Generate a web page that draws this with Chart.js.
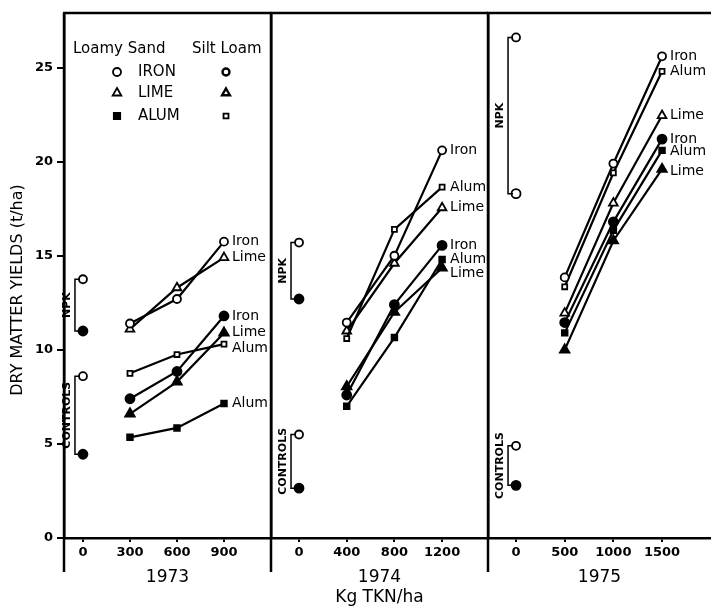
<!DOCTYPE html>
<html>
<head>
<meta charset="utf-8">
<script src="https://cdn.jsdelivr.net/npm/chart.js@4.4.0/dist/chart.umd.min.js"></script>
<style>
  html, body { margin: 0; padding: 0; background: #fff; }
  #wrap { position: relative; width: 711px; height: 608px; overflow: hidden; }
  canvas { position: absolute; top: 0; }
</style>
</head>
<body>
<div id="wrap">
  <canvas id="c1973" width="271" height="608" style="left:0"></canvas>
  <canvas id="c1974" width="224" height="608" style="left:264px"></canvas>
  <canvas id="c1975" width="230" height="608" style="left:481px"></canvas>
</div>
<script>
// ---- data (t/ha) ----
const yTicks = [0, 5, 10, 15, 20, 25];

const ticks1973 = [0, 300, 600, 900];
const ticks1974 = [0, 400, 800, 1200];
const ticks1975 = [0, 500, 1000, 1500];

const rates1973 = [300, 600, 900];
const rates1974 = [400, 800, 1200];
const rates1975 = [500, 1000, 1500];

// upper group, open markers
const open1973Iron = [11.4, 12.7, 15.75];
const open1973Lime = [11.1, 13.3, 14.9];
const open1973Alum = [8.75, 9.75, 10.3];
// lower group, filled markers
const fill1973Iron = [7.4, 8.85, 11.8];
const fill1973Lime = [6.6, 8.3, 10.9];
const fill1973Alum = [5.35, 5.85, 7.15];

const open1974Iron = [11.45, 15.0, 20.6];
const open1974Alum = [10.6, 16.4, 18.65];
const open1974Lime = [11.0, 14.6, 17.55];
const fill1974Iron = [7.6, 12.4, 15.55];
const fill1974Alum = [7.0, 10.65, 14.8];
const fill1974Lime = [8.05, 12.0, 14.35];

const open1975Iron = [13.85, 19.9, 25.6];
const open1975Alum = [13.35, 19.4, 24.8];
const open1975Lime = [11.95, 17.8, 22.45];
const fill1975Iron = [11.45, 16.8, 21.2];
const fill1975Alum = [10.9, 16.35, 20.6];
const fill1975Lime = [10.0, 15.8, 19.6];

// rate 0: [upper, lower]
const npk1973 = [13.75, 11.0];
const controls1973 = [8.6, 4.45];
const npk1974 = [15.7, 12.7];
const controls1974 = [5.5, 2.65];
const npk1975 = [26.6, 18.3];
const controls1975 = [4.9, 2.8];

Chart.defaults.font.family = '"DejaVu Sans", sans-serif';
Chart.defaults.color = '#000';

const FONT = '"DejaVu Sans", sans-serif';

const marker = {
  openIron: { pointStyle: 'circle', pointRadius: 4, pointBackgroundColor: '#fff' },
  openLime: { pointStyle: 'triangle', pointRadius: 5, pointBackgroundColor: '#fff' },
  openAlum: { pointStyle: 'rect', pointRadius: 3.5, pointBackgroundColor: '#fff' },
  fillIron: { pointStyle: 'circle', pointRadius: 4.5, pointBackgroundColor: '#000' },
  fillLime: { pointStyle: 'triangle', pointRadius: 5.5, pointBackgroundColor: '#000' },
  fillAlum: { pointStyle: 'rect', pointRadius: 4, pointBackgroundColor: '#000' },
};

function series(rates, values, style, label, dy) {
  return Object.assign({
    label: label,
    endLabel: label,
    labelDy: dy || 0,
    data: rates.map((r, i) => ({ x: r, y: values[i] })),
    showLine: true,
    borderColor: '#000',
    borderWidth: 2.2,
    pointBorderColor: '#000',
    pointBorderWidth: 1.8,
  }, style);
}

function bracket(name, values, fills) {
  return {
    label: name,
    bracket: name,
    data: values.map(v => ({ x: 0, y: v })),
    showLine: false,
    pointStyle: 'circle',
    pointRadius: [4, 4.5],
    pointBackgroundColor: fills,
    pointBorderColor: '#000',
    pointBorderWidth: 1.8,
  };
}

// frame lines, bracket labels, end labels, legend, y title
const decorations = {
  id: 'decorations',
  afterDatasetsDraw(chart, args, opts) {
    const { ctx, chartArea: a } = chart;
    ctx.save();
    ctx.strokeStyle = '#000';
    ctx.fillStyle = '#000';

    ctx.lineWidth = 2.5;
    ctx.beginPath();
    ctx.moveTo(a.left - 1, a.top);
    ctx.lineTo(a.right, a.top);
    ctx.moveTo(a.left, a.top);
    ctx.lineTo(a.left, a.bottom + 34);
    ctx.stroke();

    chart.data.datasets.forEach((ds, i) => {
      const pts = chart.getDatasetMeta(i).data;
      if (ds.bracket) {
        const bx = pts[0].x - 8;
        ctx.lineWidth = 1.5;
        ctx.beginPath();
        ctx.moveTo(pts[0].x - 3, pts[0].y);
        ctx.lineTo(bx, pts[0].y);
        ctx.lineTo(bx, pts[1].y);
        ctx.lineTo(pts[1].x - 3, pts[1].y);
        ctx.stroke();
        ctx.save();
        ctx.translate(bx - 8, (pts[0].y + pts[1].y) / 2);
        ctx.rotate(-Math.PI / 2);
        ctx.font = 'bold 11px ' + FONT;
        ctx.textAlign = 'center';
        ctx.textBaseline = 'middle';
        ctx.fillText(ds.bracket, 0, 0);
        ctx.restore();
      } else if (ds.endLabel) {
        const p = pts[pts.length - 1];
        ctx.font = '14px ' + FONT;
        ctx.textAlign = 'left';
        ctx.textBaseline = 'middle';
        ctx.fillText(ds.endLabel, p.x + 8, p.y + ds.labelDy);
      }
    });

    if (opts.legend) {
      const H = Chart.helpers;
      ctx.font = '15px ' + FONT;
      ctx.textAlign = 'left';
      ctx.textBaseline = 'middle';
      ctx.fillText('Loamy Sand', 73, 49);
      ctx.fillText('Silt Loam', 192, 49);
      const rows = [
        ['IRON', 72, { pointStyle: 'circle', radius: 4, fill: '#fff' }, { pointStyle: 'circle', radius: 3.5, fill: '#fff', bw: 2.4 }],
        ['LIME', 93, { pointStyle: 'triangle', radius: 5, fill: '#fff' }, { pointStyle: 'triangle', radius: 4.5, fill: '#fff', bw: 2.4 }],
        ['ALUM', 116, { pointStyle: 'rect', radius: 4.5, fill: '#000' }, { pointStyle: 'rect', radius: 3.5, fill: '#fff', bw: 1.8 }],
      ];
      rows.forEach(([txt, y, m1, m2]) => {
        ctx.fillStyle = '#000';
        ctx.fillText(txt, 138, y);
        [[117, m1], [226, m2]].forEach(([x, m]) => {
          ctx.fillStyle = m.fill;
          ctx.lineWidth = m.bw || 1.8;
          H.drawPoint(ctx, { pointStyle: m.pointStyle, radius: m.radius, borderWidth: m.bw || 1.8, rotation: 0 }, x, y);
        });
      });
      ctx.fillStyle = '#000';
      ctx.save();
      ctx.translate(18, 290);
      ctx.rotate(-Math.PI / 2);
      ctx.font = '16px ' + FONT;
      ctx.textAlign = 'center';
      ctx.textBaseline = 'middle';
      ctx.fillText('DRY MATTER YIELDS (t/ha)', 0, 0);
      ctx.restore();
    }
    ctx.restore();
  }
};

function makePanel(id, p) {
  const first = p.first;
  new Chart(document.getElementById(id), {
    type: 'scatter',
    data: { datasets: p.datasets },
    plugins: [decorations],
    options: {
      responsive: false,
      animation: false,
      layout: { autoPadding: false, padding: { top: 13, left: 0, right: 0, bottom: 0 } },
      plugins: {
        legend: { display: false },
        tooltip: { enabled: false },
        decorations: { legend: first },
      },
      scales: {
        x: {
          type: 'linear',
          min: p.min,
          max: p.max,
          afterBuildTicks: ax => { ax.ticks = p.ticks.map(v => ({ value: v })); },
          afterFit: ax => { ax.height = 70; },
          ticks: { callback: v => String(v), font: { size: 13, weight: 'bold' }, padding: 3, maxRotation: 0 },
          grid: { drawOnChartArea: false, tickLength: 4, lineWidth: 2, color: '#000' },
          border: { display: true, width: 2.5, color: '#000' },
          title: {
            display: true,
            text: p.title,
            font: { size: 17, lineHeight: 1.18 },
            padding: { top: 0, bottom: Array.isArray(p.title) ? 0 : 20 },
          },
        },
        y: {
          min: 0,
          max: 27.9,
          afterBuildTicks: ax => { ax.ticks = yTicks.map(v => ({ value: v })); },
          afterFit: ax => { ax.width = first ? 64 : 7; },
          ticks: { display: first, font: { size: 13, weight: 'bold' }, padding: 4 },
          grid: { drawOnChartArea: false, drawTicks: first, tickLength: 7, lineWidth: 2, color: '#000' },
          border: { display: true, width: 2.5, color: '#000' },
        },
      },
    },
  });
}

makePanel('c1973', {
  first: true, min: -121, max: 1200, ticks: ticks1973, title: '1973',
  datasets: [
    series(rates1973, open1973Iron, marker.openIron, 'Iron'),
    series(rates1973, open1973Lime, marker.openLime, 'Lime'),
    series(rates1973, open1973Alum, marker.openAlum, 'Alum', 4),
    series(rates1973, fill1973Iron, marker.fillIron, 'Iron'),
    series(rates1973, fill1973Lime, marker.fillLime, 'Lime', -1),
    series(rates1973, fill1973Alum, marker.fillAlum, 'Alum'),
    bracket('NPK', npk1973, ['#fff', '#000']),
    bracket('CONTROLS', controls1973, ['#fff', '#000']),
  ],
});

makePanel('c1974', {
  first: false, min: -235, max: 1585, ticks: ticks1974, title: ['1974', 'Kg TKN/ha'],
  datasets: [
    series(rates1974, open1974Iron, marker.openIron, 'Iron'),
    series(rates1974, open1974Alum, marker.openAlum, 'Alum'),
    series(rates1974, open1974Lime, marker.openLime, 'Lime'),
    series(rates1974, fill1974Iron, marker.fillIron, 'Iron'),
    series(rates1974, fill1974Alum, marker.fillAlum, 'Alum'),
    series(rates1974, fill1974Lime, marker.fillLime, 'Lime', 5),
    bracket('NPK', npk1974, ['#fff', '#000']),
    bracket('CONTROLS', controls1974, ['#fff', '#000']),
  ],
});

makePanel('c1975', {
  first: false, min: -288, max: 2003, ticks: ticks1975, title: '1975',
  datasets: [
    series(rates1975, open1975Iron, marker.openIron, 'Iron'),
    series(rates1975, open1975Alum, marker.openAlum, 'Alum'),
    series(rates1975, open1975Lime, marker.openLime, 'Lime'),
    series(rates1975, fill1975Iron, marker.fillIron, 'Iron'),
    series(rates1975, fill1975Alum, marker.fillAlum, 'Alum', 1),
    series(rates1975, fill1975Lime, marker.fillLime, 'Lime', 2),
    bracket('NPK', npk1975, ['#fff', '#fff']),
    bracket('CONTROLS', controls1975, ['#fff', '#000']),
  ],
});
</script>
</body>
</html>
